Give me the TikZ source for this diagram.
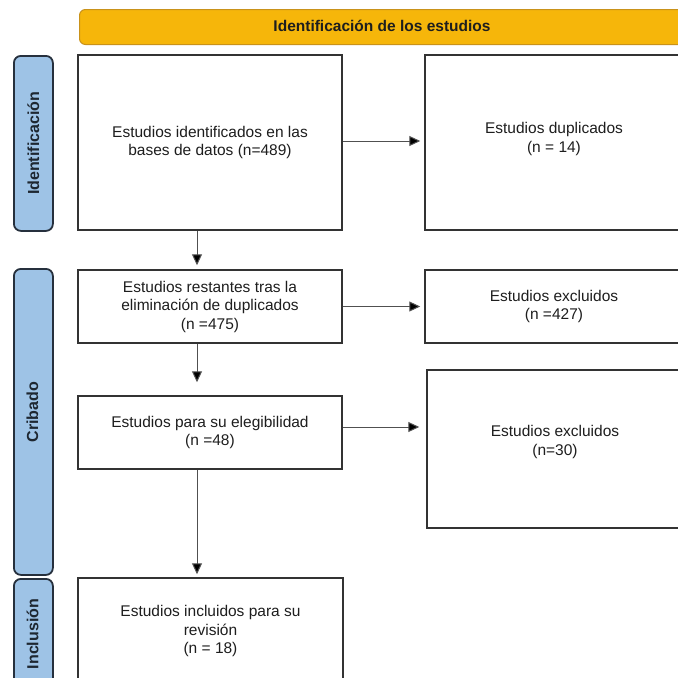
\documentclass[tikz,border=0pt]{standalone}
\usepackage{fontspec}
\setmainfont{Liberation Sans}
\usetikzlibrary{arrows.meta}
\definecolor{banfill}{HTML}{F6B60A}
\definecolor{banline}{HTML}{C9921A}
\definecolor{pillfill}{HTML}{9EC3E6}
\definecolor{pillline}{HTML}{26303D}
\definecolor{boxline}{HTML}{333333}
\definecolor{txt}{HTML}{1E1E1E}
\definecolor{arrline}{HTML}{505050}
\tikzset{
  banner/.style={draw=banline, line width=1pt, fill=banfill, rounded corners=6pt},
  bantext/.style={text=txt, font=\bfseries\fontsize{15.5}{18}\selectfont},
  pill/.style={draw=pillline, line width=1.8pt, fill=pillfill, rounded corners=7pt},
  pilltext/.style={rotate=90, text=pillline!80!black, font=\bfseries\fontsize{16}{18}\selectfont},
  flowbox/.style={draw=boxline, line width=1.5pt, fill=white, inner sep=0pt,
    align=center, text=txt, font=\fontsize{15.5}{18.5}\selectfont},
  flowtext/.style={align=center, text=txt, font=\fontsize{15.5}{18.5}\selectfont},
  flowarrow/.style={draw=arrline, line width=1pt, -{Triangle[length=11pt,width=10pt,fill=black]}}
}
\begin{document}
\begin{tikzpicture}[x=1pt,y=-1pt]
\useasboundingbox (0,0) rectangle (678,678);
\fill[white] (0,0) rectangle (678,678);

% top banner
\node[banner, minimum width=611pt, minimum height=35pt, anchor=north west] (ban) at (79,9) {};
\node[bantext] (bantxt) at (382,26) {Identificación de los estudios};

% phase pills
\node[pill, minimum width=39pt, minimum height=175pt, anchor=north west] (p1) at (13,55) {};
\node[pilltext] (p1t) at (p1.center) {Identificación};
\node[pill, minimum width=39pt, minimum height=306pt, anchor=north west] (p2) at (13,268) {};
\node[pilltext] (p2t) at (32.5,412) {Cribado};
\node[pill, minimum width=39pt, minimum height=120pt, anchor=north west] (p3) at (13,578) {};
\node[pilltext] (p3t) at (32.5,634) {Inclusión};

% flow boxes
\node[flowbox, minimum width=264pt, minimum height=175pt] (b1) at (210,142.5)
  {Estudios identificados en las\\bases de datos (n=489)};
\node[flowbox, minimum width=258pt, minimum height=175pt] (b2) at (554,142.5)
  {Estudios duplicados\\(n = 14)\\[-8pt]};
\node[flowbox, minimum width=264pt, minimum height=73pt] (b3) at (210,306.5)
  {Estudios restantes tras la\\eliminación de duplicados\\(n =475)};
\node[flowbox, minimum width=258pt, minimum height=73pt] (b4) at (554,306.5)
  {Estudios excluidos\\(n =427)};
\node[flowbox, minimum width=264pt, minimum height=73pt] (b5) at (210,432.5)
  {Estudios para su elegibilidad\\(n =48)};
\node[flowbox, minimum width=256pt, minimum height=158pt] (b6) at (555,449) {};
\node[flowtext] (b6t) at (555,442) {Estudios excluidos\\(n=30)};
\node[flowbox, minimum width=265pt, minimum height=106pt] (b7) at (210.5,631)
  {Estudios incluidos para su\\revisión\\(n = 18)};

% connectors
\coordinate (ax) at (197,0);
\draw[flowarrow, shorten >=4pt] (b1.south -| ax) -- (b3.north -| ax);
\draw[flowarrow, shorten >=13pt] (b3.south -| ax) -- (b5.north -| ax);
\draw[flowarrow, shorten >=3pt] (b5.south -| ax) -- (b7.north -| ax);
\draw[flowarrow, shorten >=4pt] (b1.east |- 0,141) -- (b2.west |- 0,141);
\draw[flowarrow, shorten >=4pt] (b3.east) -- (b4.west);
\draw[flowarrow, shorten >=7pt] (b5.east |- 0,427) -- (b6.west |- 0,427);
\end{tikzpicture}
\end{document}
